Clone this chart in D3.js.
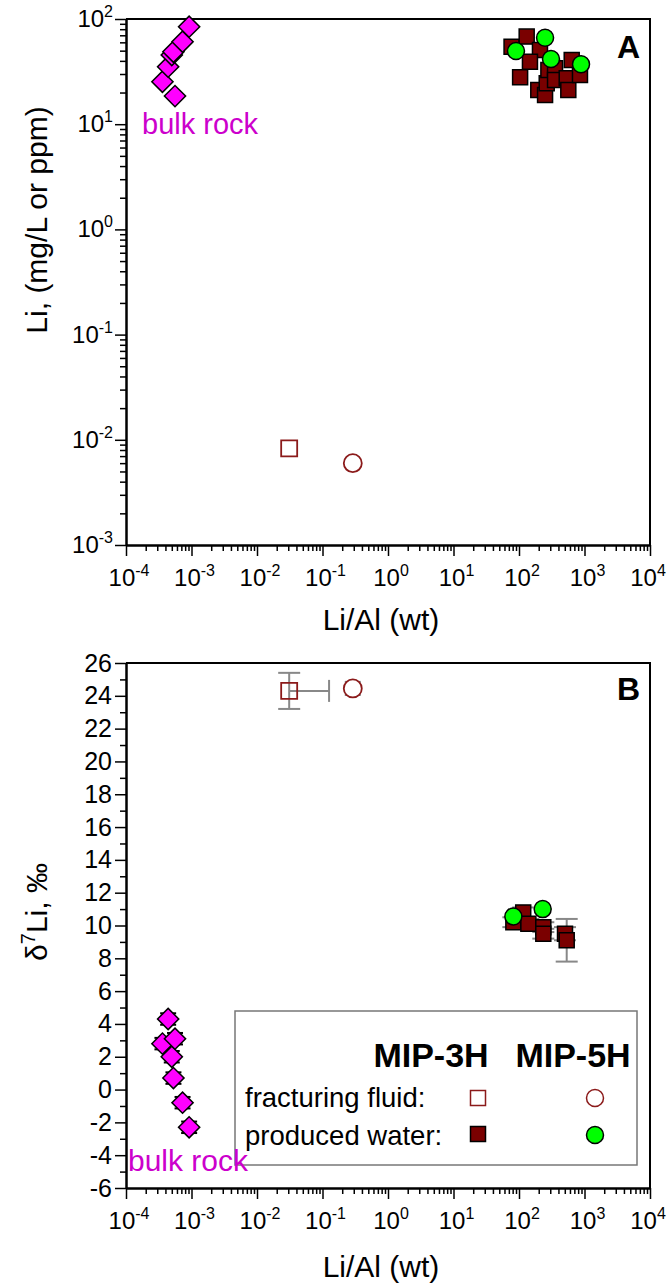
<!DOCTYPE html>
<html lang="en">
<head>
<meta charset="UTF-8">
<title>Li vs Li/Al</title>
<style>
  body { margin: 0; background: #fff; }
  svg { display: block; font-family: Arial, "Liberation Sans", sans-serif; }
  .axis path, .axis line { stroke: #000; }
  .axis path { stroke-width: 2; }
  .axis line { stroke-width: 1.5; }
</style>
</head>
<body>
<div id="chart"></div>
<script src="https://cdnjs.cloudflare.com/ajax/libs/d3/7.8.5/d3.min.js"></script>
<script>
// ---- data ----
// bulk rock (both panels)
var bulkLiAl = [3.6e-4, 4.4e-4, 5.0e-4, 5.3e-4, 5.6e-4, 7.3e-4, 9.2e-4];
var bulkLi   = [25.3, 35.2, 45.5, 48.8, 18.5, 60.8, 84.5];
var bulkD7Li = [2.8, 4.3, 2.0, 0.7, 3.1, -0.8, -2.3];

// fracturing fluid: [MIP-3H, MIP-5H]
var fracLiAl = [0.031, 0.29];
var fracLi   = [0.0083, 0.0060];
var fracD7Li = [24.3, 24.45];
var fracD7Err = [1.1, 0.4];
var fracLiAlHi = [0.126, null];

// produced water MIP-3H, panel A
var pw3LiAl = [77, 131, 209, 147, 104, 197, 250, 265, 281, 355, 355, 535, 566, 638, 853];
var pw3Li   = [54.6, 68, 50.7, 39.3, 27.9, 21.1, 19, 24.5, 32.7, 34, 26.3, 27.3, 21.1, 40.7, 29.4];
// produced water MIP-5H, panel A
var pw5LiAl = [90, 250, 308, 885];
var pw5Li   = [49.6, 66.4, 41.7, 37.1];

// produced water, panel B
var pw3bLiAl = [82, 116, 139, 235, 235, 504, 535];
var pw3bD7Li = [10.2, 10.8, 10.1, 9.9, 9.5, 9.5, 9.1];
var pw3bErr  = [0.3, 0.3, 0.3, 0.3, 0.3, 0.4, 1.3];
var pw5bLiAl = [82, 230];
var pw5bD7Li = [10.55, 11.0];

var xDecades = [-4, -3, -2, -1, 0, 1, 2, 3, 4];
var yDecades = [-3, -2, -1, 0, 1, 2];
var yTicksB  = d3.range(-6, 27, 2);

// ---- layout ----
var W = 668, H = 1283;
var left = 126, right = 650;
var topA = 19, botA = 545, topB = 663, botB = 1188;
var red = "#7a0000", openRed = "#8b1a1a", green = "#00ff00", magenta = "#ff00ff";
var tickFont = 24, supFont = 16, titleFont = 30;

var svg = d3.select("#chart").append("svg").attr("width", W).attr("height", H);

var x = d3.scaleLog().domain([1e-4, 1e4]).range([left, right]);
var yA = d3.scaleLog().domain([1e-3, 1e2]).range([botA, topA]);
var yB = d3.scaleLinear().domain([-6, 26]).range([botB, topB]);

function logMinors(decs) {
  var out = [];
  decs.slice(0, -1).forEach(function (e) {
    for (var k = 2; k < 10; k++) out.push(k * Math.pow(10, e));
  });
  return out;
}
var xMajors = xDecades.map(function (e) { return Math.pow(10, e); });

function sup(sel, base, exp) {
  sel.append("tspan").text(base).attr("font-size", tickFont);
  sel.append("tspan").text(exp).attr("font-size", supFont).attr("dy", -tickFont * 0.42);
}

function xAxis(yPos) {
  var g = svg.append("g").attr("transform", "translate(0," + yPos + ")");
  g.append("g").attr("class", "axis")
    .call(d3.axisBottom(x).tickValues(logMinors(xDecades)).tickSize(6).tickSizeOuter(0).tickFormat(""));
  g.append("g").attr("class", "axis")
    .call(d3.axisBottom(x).tickValues(xMajors).tickSize(11).tickSizeOuter(0).tickFormat(""));
  g.selectAll("text").remove();
  xDecades.forEach(function (e) {
    var cx = Math.min(x(Math.pow(10, e)) + 3, W - 20);
    var t = g.append("text").attr("x", cx).attr("y", 41).attr("text-anchor", "middle");
    sup(t, "10", String(e));
  });
}

function frame(y0, y1) {
  svg.append("path")
    .attr("d", "M" + left + "," + y0 + "H" + right + "V" + y1)
    .attr("fill", "none").attr("stroke", "#000").attr("stroke-width", 2);
}

// ---------- Panel A ----------
frame(topA, botA);
xAxis(botA);
var gyA = svg.append("g").attr("transform", "translate(" + left + ",0)");
gyA.append("g").attr("class", "axis")
  .call(d3.axisLeft(yA).tickValues(logMinors(yDecades)).tickSize(6).tickSizeOuter(0).tickFormat(""));
gyA.append("g").attr("class", "axis")
  .call(d3.axisLeft(yA).tickValues(yDecades.map(function (e) { return Math.pow(10, e); }))
    .tickSize(11).tickSizeOuter(0).tickFormat(""));
yDecades.forEach(function (e) {
  var t = gyA.append("text").attr("x", -13).attr("y", yA(Math.pow(10, e)) + 8)
    .attr("text-anchor", "end");
  sup(t, "10", String(e));
});
svg.append("text").attr("transform", "translate(47," + 220 + ") rotate(-90)")
  .attr("text-anchor", "middle").attr("font-size", titleFont).text("Li, (mg/L or ppm)");
svg.append("text").attr("x", (left + right) / 2 - 7).attr("y", 630)
  .attr("text-anchor", "middle").attr("font-size", titleFont).text("Li/Al (wt)");
svg.append("text").attr("x", 640).attr("y", 58).attr("text-anchor", "end")
  .attr("font-size", 32).attr("font-weight", "bold").text("A");

var sq = function (s) { return d3.symbol().type(d3.symbolSquare).size(s * s); };

// bulk rock diamonds
svg.append("g").selectAll("path").data(d3.range(bulkLiAl.length)).join("path")
  .attr("d", sq(15)())
  .attr("transform", function (i) { return "translate(" + x(bulkLiAl[i]) + "," + yA(bulkLi[i]) + ") rotate(45)"; })
  .attr("fill", magenta).attr("stroke", "#000").attr("stroke-width", 1.5);
svg.append("text").attr("x", 142).attr("y", 134).attr("font-size", 29)
  .attr("fill", "#cc00cc").text("bulk rock");

// fracturing fluid
svg.append("path").attr("d", sq(16)())
  .attr("transform", "translate(" + x(fracLiAl[0]) + "," + yA(fracLi[0]) + ")")
  .attr("fill", "#fff").attr("stroke", openRed).attr("stroke-width", 1.8);
svg.append("circle").attr("cx", x(fracLiAl[1])).attr("cy", yA(fracLi[1])).attr("r", 9)
  .attr("fill", "#fff").attr("stroke", openRed).attr("stroke-width", 1.8);

// produced water
svg.append("g").selectAll("path").data(d3.range(pw3LiAl.length)).join("path")
  .attr("d", sq(15)())
  .attr("transform", function (i) { return "translate(" + x(pw3LiAl[i]) + "," + yA(pw3Li[i]) + ")"; })
  .attr("fill", red).attr("stroke", "#000").attr("stroke-width", 1.5);
svg.append("g").selectAll("circle").data(d3.range(pw5LiAl.length)).join("circle")
  .attr("cx", function (i) { return x(pw5LiAl[i]); })
  .attr("cy", function (i) { return yA(pw5Li[i]); })
  .attr("r", 8.5).attr("fill", green).attr("stroke", "#000").attr("stroke-width", 1.5);

// ---------- Panel B ----------
frame(topB, botB);
xAxis(botB);
var gyB = svg.append("g").attr("transform", "translate(" + left + ",0)");
gyB.append("g").attr("class", "axis")
  .call(d3.axisLeft(yB).tickValues(d3.range(-5, 26, 2)).tickSize(6).tickSizeOuter(0).tickFormat(""));
gyB.append("g").attr("class", "axis")
  .call(d3.axisLeft(yB).tickValues(yTicksB).tickSize(11).tickSizeOuter(0)
    .tickFormat(function (d) { return d; }))
  .selectAll("text").attr("font-size", 25).attr("font-family", "Arial, 'Liberation Sans', sans-serif")
  .attr("fill", "#000").attr("x", -14);
var yl = svg.append("text").attr("transform", "translate(47," + 912 + ") rotate(-90)")
  .attr("text-anchor", "middle").attr("font-size", titleFont);
yl.append("tspan").text("\u03b4");
yl.append("tspan").text("7").attr("font-size", 20).attr("dy", -12);
yl.append("tspan").text("Li, \u2030").attr("dy", 12);
svg.append("text").attr("x", (left + right) / 2 - 7).attr("y", 1277)
  .attr("text-anchor", "middle").attr("font-size", titleFont).text("Li/Al (wt)");
svg.append("text").attr("x", 640).attr("y", 700).attr("text-anchor", "end")
  .attr("font-size", 32).attr("font-weight", "bold").text("B");

function vbar(g, cx, cy0, cy1, cap, color) {
  g.append("line").attr("x1", cx).attr("x2", cx).attr("y1", cy0).attr("y2", cy1);
  g.append("line").attr("x1", cx - cap / 2).attr("x2", cx + cap / 2).attr("y1", cy0).attr("y2", cy0);
  g.append("line").attr("x1", cx - cap / 2).attr("x2", cx + cap / 2).attr("y1", cy1).attr("y2", cy1);
  g.selectAll("line").attr("stroke", color).attr("stroke-width", 2);
}

var eb = svg.append("g");
// fracturing fluid error bars
fracLiAl.forEach(function (v, i) {
  vbar(eb, x(v), yB(fracD7Li[i] + fracD7Err[i]), yB(fracD7Li[i] - fracD7Err[i]), i === 0 ? 22 : 16, "#888");
});
var hx = x(fracLiAlHi[0]), hy = yB(fracD7Li[0]);
eb.append("line").attr("x1", x(fracLiAl[0])).attr("x2", hx).attr("y1", hy).attr("y2", hy)
  .attr("stroke", "#888").attr("stroke-width", 2);
eb.append("line").attr("x1", hx).attr("x2", hx).attr("y1", hy - 11).attr("y2", hy + 11)
  .attr("stroke", "#888").attr("stroke-width", 2);
// produced water error bars
pw3bLiAl.forEach(function (v, i) {
  vbar(eb, x(v), yB(pw3bD7Li[i] + pw3bErr[i]), yB(pw3bD7Li[i] - pw3bErr[i]), 22, "#888");
});
// bulk rock error bars
var ebk = svg.append("g");
bulkLiAl.forEach(function (v, i) {
  vbar(ebk, x(v), yB(bulkD7Li[i] + 0.35), yB(bulkD7Li[i] - 0.35), 16, "#000");
});

svg.append("path").attr("d", sq(16)())
  .attr("transform", "translate(" + x(fracLiAl[0]) + "," + yB(fracD7Li[0]) + ")")
  .attr("fill", "none").attr("stroke", openRed).attr("stroke-width", 1.8);
svg.append("circle").attr("cx", x(fracLiAl[1])).attr("cy", yB(fracD7Li[1])).attr("r", 9)
  .attr("fill", "#fff").attr("stroke", openRed).attr("stroke-width", 1.8);

svg.append("g").selectAll("path").data(d3.range(bulkLiAl.length)).join("path")
  .attr("d", sq(15)())
  .attr("transform", function (i) { return "translate(" + x(bulkLiAl[i]) + "," + yB(bulkD7Li[i]) + ") rotate(45)"; })
  .attr("fill", magenta).attr("stroke", "#000").attr("stroke-width", 1.5);

svg.append("g").selectAll("path").data(d3.range(pw3bLiAl.length)).join("path")
  .attr("d", sq(15)())
  .attr("transform", function (i) { return "translate(" + x(pw3bLiAl[i]) + "," + yB(pw3bD7Li[i]) + ")"; })
  .attr("fill", red).attr("stroke", "#000").attr("stroke-width", 1.5);
svg.append("g").selectAll("circle").data(d3.range(pw5bLiAl.length)).join("circle")
  .attr("cx", function (i) { return x(pw5bLiAl[i]); })
  .attr("cy", function (i) { return yB(pw5bD7Li[i]); })
  .attr("r", 8.5).attr("fill", green).attr("stroke", "#000").attr("stroke-width", 1.5);

// legend
var lg = svg.append("g");
lg.append("rect").attr("x", 235).attr("y", 1011).attr("width", 402).attr("height", 154)
  .attr("fill", "#fff").attr("stroke", "#777").attr("stroke-width", 1.5);
lg.append("text").attr("x", 431).attr("y", 1067).attr("text-anchor", "middle")
  .attr("font-size", 34).attr("font-weight", "bold").text("MIP-3H");
lg.append("text").attr("x", 573).attr("y", 1067).attr("text-anchor", "middle")
  .attr("font-size", 34).attr("font-weight", "bold").text("MIP-5H");
lg.append("text").attr("x", 245).attr("y", 1107).attr("font-size", 27.5).text("fracturing fluid:");
lg.append("text").attr("x", 245).attr("y", 1145).attr("font-size", 27.5).text("produced water:");
lg.append("path").attr("d", sq(15)()).attr("transform", "translate(478,1098)")
  .attr("fill", "#fff").attr("stroke", openRed).attr("stroke-width", 1.5);
lg.append("circle").attr("cx", 595).attr("cy", 1098).attr("r", 8.5)
  .attr("fill", "#fff").attr("stroke", openRed).attr("stroke-width", 1.5);
lg.append("path").attr("d", sq(15)()).attr("transform", "translate(478,1134)")
  .attr("fill", red).attr("stroke", "#000").attr("stroke-width", 1.5);
lg.append("circle").attr("cx", 595).attr("cy", 1135).attr("r", 8.5)
  .attr("fill", green).attr("stroke", "#000").attr("stroke-width", 1.5);

svg.append("text").attr("x", 128).attr("y", 1171).attr("font-size", 30)
  .attr("fill", "#cc00cc").text("bulk rock");
</script>
</body>
</html>
